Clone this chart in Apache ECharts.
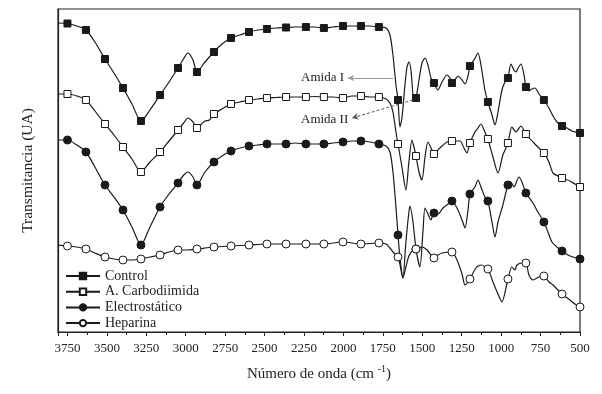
<!DOCTYPE html>
<html><head><meta charset="utf-8">
<script src="https://cdn.jsdelivr.net/npm/echarts@6/dist/echarts.min.js"></script>
<style>html,body{margin:0;padding:0;background:#fff}#c{width:602px;height:394px}</style>
</head><body><div id="c"></div>
<script>
// Wavenumbers (cm-1) where Origin drew markers
const markerWn = [3750,3633,3512,3398,3284,3163,3049,2929,2821,2713,2599,2485,2364,2238,2124,2003,1889,1775,1654,1540,1426,1312,1198,1084,957,843,729,614,500];
const xTicks = [3750,3500,3250,3000,2750,2500,2250,2000,1750,1500,1250,1000,750,500];
const seriesNames = ['Control','A. Carbodiimida','Electrostático','Heparina'];

// [wavenumber, transmittance (arbitrary units)]
const control = [[3810,309],[3750,308.5],[3690,306],[3633,302],[3576,290],[3512,273],[3455,259],[3398,244],[3341,228],[3284,211],[3227,222],[3163,237],[3106,250],[3049,264],[3018,272],[2986,279],[2954,272],[2929,260],[2878,270],[2821,280],[2770,288],[2713,294],[2656,297],[2599,300],[2542,302],[2485,303],[2428,304],[2364,304.5],[2307,305],[2238,305],[2181,305],[2124,304],[2066,305],[2003,306],[1946,306],[1889,306],[1832,306],[1775,305],[1730,304],[1705,297],[1686,277],[1667,247],[1654,232],[1642,205],[1629,214],[1610,247],[1597,265],[1585,270],[1572,262],[1553,232],[1540,234],[1521,252],[1502,269],[1483,274],[1464,267],[1445,254],[1426,249],[1401,242],[1375,250],[1344,257],[1325,254],[1312,249],[1293,252],[1274,256],[1248,252],[1229,248],[1210,256],[1198,266],[1172,272],[1147,279],[1128,267],[1103,242],[1084,230],[1058,217],[1039,207],[1020,220],[995,242],[976,250],[957,254],[938,268],[919,262],[906,260],[893,264],[874,268],[855,257],[843,245],[824,241],[805,243],[786,244],[760,238],[729,232],[697,224],[671,216],[646,210],[614,206],[583,204],[551,201],[500,199]];

const carbodiimida = [[3810,238],[3750,238],[3690,236],[3633,232],[3576,221],[3512,208],[3455,197],[3398,185],[3341,173],[3284,160],[3227,170],[3163,180],[3106,191],[3049,202],[3018,208],[2986,214],[2954,210],[2929,204],[2900,208],[2878,211],[2850,212],[2821,218],[2770,223],[2713,228],[2656,230],[2599,232],[2542,233],[2485,234],[2428,234.5],[2364,235],[2307,235],[2238,235],[2181,235.5],[2124,235],[2066,235],[2003,234],[1946,236],[1889,236],[1832,235],[1775,235],[1730,233],[1705,229],[1686,220],[1667,200],[1654,188],[1629,165],[1604,142],[1585,170],[1566,192],[1553,185],[1540,176],[1521,160],[1502,152],[1483,175],[1464,190],[1439,182],[1426,178],[1401,182],[1375,186],[1344,190],[1312,191],[1261,191],[1236,184],[1217,179],[1198,189],[1166,200],[1147,204],[1128,208],[1103,200],[1084,193],[1052,175],[1020,159],[989,177],[957,189],[932,205],[907,200],[874,206],[843,198],[786,188],[729,179],[697,170],[671,159],[614,154],[564,151],[532,148],[500,145]];

const electrostatico = [[3810,192],[3750,192],[3690,187],[3633,180],[3576,165],[3512,147],[3455,135],[3398,122],[3341,105],[3284,87],[3227,105],[3163,125],[3106,138],[3049,149],[3018,156],[2986,160],[2954,155],[2929,147],[2878,160],[2821,170],[2770,176],[2713,181],[2656,184],[2599,186],[2542,187],[2485,188],[2428,188],[2364,188],[2307,189],[2238,188],[2181,188],[2124,188],[2066,189],[2003,190],[1946,191],[1889,191],[1832,190],[1775,188],[1730,186],[1705,180],[1686,160],[1667,125],[1654,97],[1642,75],[1623,54],[1604,90],[1585,120],[1578,126],[1559,110],[1540,83],[1515,65],[1496,100],[1483,124],[1464,118],[1445,112],[1426,119],[1401,118],[1369,124],[1344,127],[1312,131],[1274,122],[1248,112],[1229,104],[1210,122],[1198,138],[1166,145],[1147,152],[1128,145],[1103,135],[1084,131],[1058,110],[1039,95],[1020,110],[989,127],[957,147],[938,150],[919,145],[887,155],[868,150],[843,139],[798,129],[767,120],[729,110],[703,100],[678,90],[646,85],[614,81],[576,77],[545,75],[500,73]];

const heparina = [[3810,87],[3750,86],[3690,85],[3633,83],[3576,79],[3512,75],[3455,73],[3398,72],[3341,72],[3284,73],[3227,75],[3163,77],[3106,80],[3049,82],[2990,82],[2929,83],[2821,85],[2713,86],[2599,87],[2485,88],[2364,88],[2238,88],[2124,88],[2003,90],[1889,88],[1775,89],[1730,88],[1705,84],[1686,80],[1654,75],[1642,68],[1623,54],[1604,65],[1585,76],[1559,82],[1540,83],[1502,85],[1470,82],[1426,74],[1400,77],[1375,79],[1312,80],[1280,72],[1248,58],[1229,47],[1198,53],[1160,64],[1128,67],[1084,63],[1052,50],[1020,38],[995,30],[957,53],[932,65],[913,62],[900,67],[868,69],[843,69],[824,57],[798,52],[760,55],[729,56],[697,50],[671,47],[614,38],[564,32],[532,28],[500,25]];

// annotation arrows: [from wn, from val] -> [to wn, to val]
const amidaI = [[1686,254],[1971,254]];
const amidaII = [[1559,232],[1945,214]];

const SERIF = 'Liberation Serif';
const LINE = '#1a1a1a';

function build(pts){
  return pts.map(p => markerWn.indexOf(p[0]) >= 0 ? {value:p} : {value:p, symbol:'none'});
}
function mkSeries(name, pts, symbol, fill, size, extra){
  return Object.assign({
    name, type:'line', data: build(pts), smooth:0.25, symbol, symbolSize:size,
    showSymbol:true, showAllSymbol:true,
    lineStyle:{color:LINE, width:1.2},
    itemStyle:{color:fill, borderColor:LINE, borderWidth:1},
    emphasis:{disabled:true}, z:2
  }, extra||{});
}

const chart = echarts.init(document.getElementById('c'), null, {renderer:'canvas'});
const option = {
  animation:false,
  grid:{left:58, right:22, top:9, bottom:62, show:true, borderColor:'#222', borderWidth:1.2, backgroundColor:'transparent'},
  legend:{
    orient:'vertical', left:60, top:264, itemGap:1.7, itemWidth:34, itemHeight:8,
    data: seriesNames,
    textStyle:{fontFamily:SERIF, fontSize:14, color:'#222'}
  },
  xAxis:{
    type:'value', inverse:true, min:500, max:3810, interval:250,
    axisLine:{lineStyle:{color:'#222', width:1.2}},
    axisTick:{length:4, lineStyle:{color:'#222'}},
    minorTick:{show:true, splitNumber:2, length:3, lineStyle:{color:'#222'}},
    splitLine:{show:false}, minorSplitLine:{show:false},
    axisLabel:{showMaxLabel:false, fontFamily:SERIF, fontSize:13, color:'#222', margin:10,
      formatter: v => xTicks.indexOf(v) >= 0 ? String(v) : ''},
    name:'Número de onda (cm {sup|-1})', nameLocation:'middle', nameGap:32,
    nameTextStyle:{fontFamily:SERIF, fontSize:15, color:'#222', lineHeight:20,
      rich:{sup:{fontFamily:SERIF, fontSize:10, verticalAlign:'top', lineHeight:20, color:'#222'}}}
  },
  yAxis:{
    type:'value', min:0, max:323,
    axisLine:{show:true, lineStyle:{color:'#222', width:1.2}},
    axisTick:{show:false}, axisLabel:{show:false}, splitLine:{show:false},
    name:'Transmitancia (UA)', nameLocation:'middle', nameGap:22,
    nameTextStyle:{fontFamily:SERIF, fontSize:15.5, color:'#222'}
  },
  series:[
    mkSeries(seriesNames[0], control, 'rect', LINE, 7, {
      markLine:{
        silent:true, animation:false, symbol:['none','arrow'], symbolSize:[5,6],
        label:{show:true, position:'end', fontFamily:SERIF, fontSize:13, color:'#222', distance:4},
        data:[
          [{coord:amidaI[0], lineStyle:{color:'#9a9a9a', width:1, type:'solid'}},
           {coord:amidaI[1], label:{formatter:'Amida I'}}],
          [{coord:amidaII[0], lineStyle:{color:'#555', width:1, type:[3,2]}},
           {coord:amidaII[1], label:{formatter:'Amida II'}}]
        ]
      }
    }),
    mkSeries(seriesNames[1], carbodiimida, 'rect', '#fff', 7),
    mkSeries(seriesNames[2], electrostatico, 'circle', LINE, 8),
    mkSeries(seriesNames[3], heparina, 'circle', '#fff', 8)
  ]
};
chart.setOption(option);
</script></body></html>
